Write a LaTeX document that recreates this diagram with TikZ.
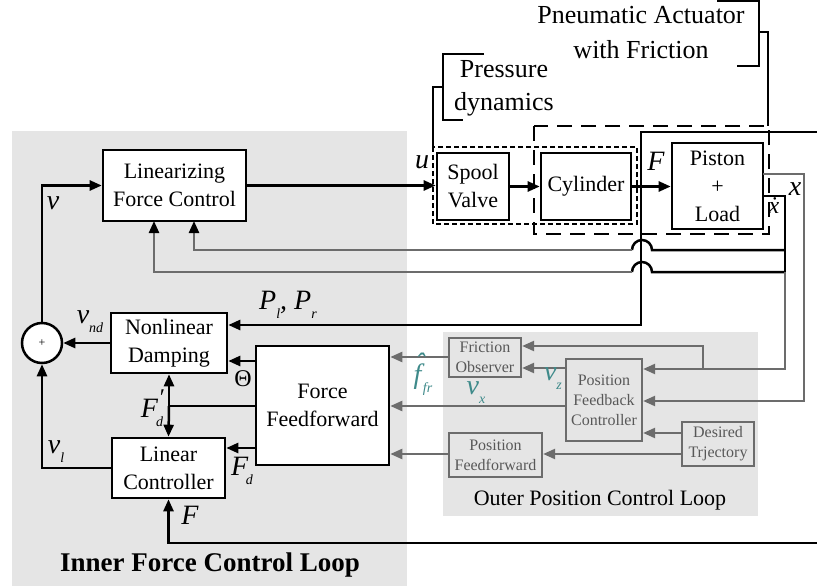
\documentclass[tikz,border=0pt]{standalone}
\usepackage{fontspec}
\setmainfont{Liberation Serif}
\usetikzlibrary{arrows.meta,calc}
\definecolor{bgg}{RGB}{229,229,229}
\definecolor{lng}{RGB}{108,108,108}
\definecolor{txg}{RGB}{88,88,88}
\definecolor{tl}{RGB}{62,138,138}
% italic subscript placed below the baseline
\newcommand\sbs[1]{\raisebox{-0.32em}{\fontsize{14}{14}\selectfont\itshape #1}}
% f with a hat, x with a dot
\newcommand\hatf{\ooalign{\textit{f}\cr\hidewidth\raisebox{0.42em}{\hspace{0.18em}ˆ}\hidewidth\cr}}
\newcommand\dotx{\ooalign{\textit{x}\cr\hidewidth\raisebox{0.02em}{\hspace{0.08em}˙}\hidewidth\cr}}

\tikzset{
  blk/.style={draw, line width=2.6pt, fill=white, align=center, inner sep=0pt,
    font=\fontsize{22}{28}\selectfont},
  oblk/.style={draw=lng, line width=2.3pt, align=center, inner sep=0pt, text=txg,
    font=\fontsize{16}{20}\selectfont},
  ln/.style={line width=2.5pt},
  gln/.style={line width=2.3pt, draw=lng},
  tip/.style={-{Triangle[length=12pt,width=10pt]}},
  btip/.style={-{Triangle[length=12pt,width=10pt,color=black]}},
  lab/.style={inner sep=0pt, font=\fontsize{28}{30}\selectfont\itshape},
  tlab/.style={lab, text=tl},
  brk/.style={line width=2.5pt},
  dotrect/.style={line width=2pt, dash pattern=on 5pt off 3pt},
  dashrect/.style={line width=2.5pt, dash pattern=on 15pt off 9pt},
}

\begin{document}
\begin{tikzpicture}[x=1pt,y=-1pt]
\useasboundingbox (0,0) rectangle (817,586);
\fill[white] (0,0) rectangle (817,586);

% loop backgrounds
\fill[bgg] (12,131) rectangle (407,586);
\fill[bgg] (443,332) rectangle (758,516);

% plant blocks
\node[blk, minimum width=143pt, minimum height=71pt] (lfc) at (174.5,185.5) {Linearizing\\Force Control};
\node[blk, minimum width=72pt, minimum height=67pt] (sv) at (473,186.5) {Spool\\Valve};
\node[blk, minimum width=90pt, minimum height=67pt] (cyl) at (586,186.5) {Cylinder};
\node[blk, minimum width=91pt, minimum height=86pt] (pl) at (717.5,186) {Piston\\+\\Load};

% inner loop blocks
\node[blk, minimum width=116pt, minimum height=60pt] (nld) at (169,343) {Nonlinear\\Damping};
\node[blk, minimum width=113pt, minimum height=60pt] (lc) at (168.5,468) {Linear\\Controller};
\node[blk, minimum width=133pt, minimum height=119pt] (ff) at (322.5,405.5) {Force\\Feedforward};
\node[draw, circle, line width=2.5pt, fill=white, minimum size=40pt, inner sep=0pt,
  font=\fontsize{12}{12}\selectfont] (sum) at (42,343) {+};

% outer loop blocks
\node[oblk, minimum width=72pt, minimum height=39pt] (fo) at (485,357.5) {Friction\\Observer};
\node[oblk, minimum width=76pt, minimum height=82pt] (pfc) at (604,400) {Position\\Feedback\\Controller};
\node[oblk, minimum width=93pt, minimum height=44pt] (pff) at (495.5,455) {Position\\Feedforward};
\node[oblk, minimum width=72pt, minimum height=44pt] (dt) at (718,444) {Desired\\Trjectory};

% groupings of the actuator
\draw[dotrect] (433,147) rectangle (637,224);
\draw[dashrect] (534,126) rectangle (769,234);
\draw[brk] (484,54) -- (443,54) -- (443,120) -- (463,120);
\draw[brk] (443,87) -- (433,87) -- (433,147);
\draw[brk] (717,1) -- (759,1) -- (759,66) -- (737,66);
\draw[brk] (759,32) -- (768,32) -- (768,126);
\node[inner sep=0pt, align=center, font=\fontsize{26}{33}\selectfont] (pdtxt) at (504,88) {Pressure\\dynamics};
\node[inner sep=0pt, align=center, font=\fontsize{26}{35}\selectfont] (patxt) at (641,33) {Pneumatic Actuator\\with Friction};

% forward path
\draw[ln, tip] (lfc.east) -- (lfc.east -| sv.west);
\draw[ln, tip] (sv.east) -- (cyl.west);
\draw[ln, tip] (cyl.east) -- (cyl.east -| pl.west);

% measured force branches
\coordinate (fj) at (641,186.5);
\coordinate (ftop) at (817,132);
\coordinate (fbot) at (817,543);
\draw[ln] (fj) -- (fj |- ftop) -- (ftop);
\draw[ln, tip] (fj) -- (641,325) -- (nld.east |- 0,325);
\draw[ln, tip] (fbot) -- (lc.south |- fbot) -- (lc.south);

% velocity feedback to the linearizing controller, hopping over the force line
\coordinate (xd) at (763,196);
\draw[ln] (xd) -- (785,196) -- (785,272);
\draw[ln] (785,250) -- (652,250) arc[start angle=0, end angle=180, radius=10pt];
\draw[ln] (785,272) -- (652,272) arc[start angle=0, end angle=180, radius=10pt];
\draw[gln, btip] (632,250) -- (194,250) -- (194,221);
\draw[gln, btip] (632,272) -- (154,272) -- (154,221);
\draw[gln, tip] (785,272) -- (785,369) -- (pfc.east |- 0,369);
\draw[gln, tip] (703,369) -- (703,346) -- (fo.east |- 0,346);
% position feedback
\draw[gln, tip] (763,174) -- (804,174) -- (804,401) -- (pfc.east |- 0,401);

% outer loop signals
\draw[gln, tip] (pfc.west |- 0,368) -- (fo.east |- 0,368);
\draw[gln, tip] (fo.west |- 0,357) -- (ff.east |- 0,357);
\draw[gln, tip] (pfc.west |- 0,406) -- (ff.east |- 0,406);
\draw[gln, tip] (pff.west |- 0,454) -- (ff.east |- 0,454);
\draw[gln, tip] (dt.west |- 0,454) -- (pff.east |- 0,454);
\draw[gln, tip] (dt.west |- 0,433) -- (pfc.east |- 0,433);

% inner loop signals
\draw[ln, tip] (nld.west) -- (sum.east);
\draw[ln, tip] (sum.north) -- (sum.north |- lfc.west) -- (lfc.west);
\draw[ln, tip] (lc.west) -- (sum.south |- lc.west) -- (sum.south);
\draw[ln, tip] (ff.west |- 0,361) -- (nld.east |- 0,361);
\draw[ln, tip] (ff.west |- 0,448) -- (lc.east |- 0,448);
\coordinate (fdj) at (169,406);
\draw[ln] (ff.west |- fdj) -- (fdj);
\draw[ln, tip] (fdj) -- (nld.south);
\draw[ln, tip] (fdj) -- (lc.north);

% signal labels
\node[lab] (lu) at (422,162) {u};
\node[lab] (lF1) at (656,161) {F};
\node[lab] (lx) at (795,189) {x};
\node[lab, font=\fontsize{24}{24}\selectfont] (lxd) at (774,208) {\dotx};
\node[lab] (lv) at (53,203) {v};
\node[lab] (lvnd) at (90,322) {v\sbs{nd}};
\node[lab] (lP) at (288,305) {P\sbs{l}, P\sbs{r}};
\node[inner sep=0pt, font=\fontsize{24}{24}\selectfont] (lth) at (243,379) {Θ};
\node[lab] (lFdp) at (152,408) {F\rlap{\raisebox{0.42em}{\fontsize{24}{24}\selectfont\kern0.02em′}}\kern-0.06em\sbs{d}};
\node[lab] (lFd) at (242,471) {F\kern-0.08em\sbs{d}};
\node[lab] (lvl) at (56,452) {v\sbs{l}};
\node[lab] (lF2) at (190,515) {F};
\node[tlab] (lff) at (423,380) {\hatf\kern0.05em\sbs{fr}};
\node[tlab] (lvx) at (476,393) {v\sbs{x}};
\node[tlab] (lvz) at (553,379) {v\sbs{z}};

% loop titles
\node[inner sep=0pt, font=\fontsize{27}{27}\selectfont\bfseries] (tin) at (210,565) {Inner Force Control Loop};
\node[inner sep=0pt, font=\fontsize{22}{22}\selectfont] (tout) at (600,500) {Outer Position Control Loop};
\end{tikzpicture}
\end{document}
